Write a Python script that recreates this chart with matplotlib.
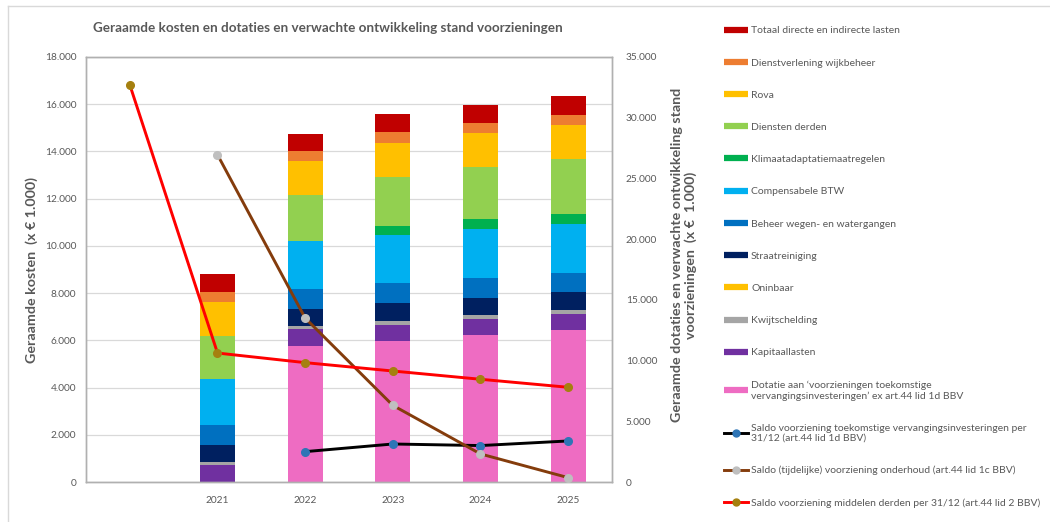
import numpy as np
import matplotlib
matplotlib.use("Agg")
import matplotlib.pyplot as plt
from matplotlib.lines import Line2D
from matplotlib.ticker import FuncFormatter, MultipleLocator

plt.rcParams["font.family"] = ["Lato", "DejaVu Sans"]

nan = np.nan

# categories (first slot is the empty start column)
years = ["", "2021", "2022", "2023", "2024", "2025"]

# stacked cost components (x € 1.000), bottom to top
dotatie = [0, 0, 5766, 5977, 6217, 6442]
kapitaallasten = [0, 705, 704, 677, 676, 663]
kwijtschelding = [0, 135, 141, 183, 169, 183]
oninbaar = [0, 0, 0, 0, 0, 0]
straatreiniging = [0, 719, 733, 733, 733, 747]
beheer_wegen = [0, 860, 846, 846, 846, 832]
compensabele_btw = [0, 1945, 2002, 2044, 2086, 2072]
klimaat = [0, 0, 0, 380, 395, 409]
diensten_derden = [0, 1832, 1959, 2086, 2213, 2340]
rova = [0, 1438, 1438, 1438, 1438, 1452]
dienstverlening = [0, 409, 423, 451, 423, 423]
totaal_lasten = [0, 761, 747, 776, 789, 789]

# provisions (secondary axis)
saldo_vervanging = [nan, nan, 2500, 3130, 3000, 3380]
saldo_onderhoud = [nan, 26950, 13500, 6310, 2310, 360]
saldo_derden = [32700, 10620, 9830, 9140, 8460, 7800]

stack = [
    (dotatie, "#EE6CC2", "Dotatie aan \u2018voorzieningen toekomstige\nvervangingsinvesteringen\u2019 ex art.44 lid 1d BBV"),
    (kapitaallasten, "#7030A0", "Kapitaallasten"),
    (kwijtschelding, "#A5A5A5", "Kwijtschelding"),
    (oninbaar, "#FFC000", "Oninbaar"),
    (straatreiniging, "#002060", "Straatreiniging"),
    (beheer_wegen, "#0070C0", "Beheer wegen- en watergangen"),
    (compensabele_btw, "#00B0F0", "Compensabele BTW"),
    (klimaat, "#00B050", "Klimaatadaptatiemaatregelen"),
    (diensten_derden, "#92D050", "Diensten derden"),
    (rova, "#FFC000", "Rova"),
    (dienstverlening, "#ED7D31", "Dienstverlening wijkbeheer"),
    (totaal_lasten, "#C00000", "Totaal directe en indirecte lasten"),
]

lines = [
    (saldo_vervanging, "#000000", "#2E75B6",
     "Saldo voorziening toekomstige vervangingsinvesteringen per\n31/12 (art.44 lid 1d BBV)"),
    (saldo_onderhoud, "#843C0C", "#BFBFBF",
     "Saldo (tijdelijke) voorziening onderhoud (art.44 lid 1c BBV)"),
    (saldo_derden, "#FF0000", "#A5800F",
     "Saldo voorziening middelen derden per 31/12 (art.44 lid 2 BBV)"),
]

grey = "#595959"
W, H = 1050, 522

fig = plt.figure(figsize=(W / 100, H / 100), dpi=100)
ax = fig.add_axes([86 / W, 1 - 482 / H, (612 - 86) / W, (482 - 57) / H])
ax2 = ax.twinx()

x = np.arange(len(years))
bottom = np.zeros(len(years))
for vals, col, lab in stack:
    ax.bar(x, vals, width=0.4, bottom=bottom, color=col, zorder=2)
    bottom += np.array(vals)

for vals, col, mcol, lab in lines:
    ax2.plot(x, vals, color=col, lw=2.1, marker="o", ms=5.5,
             mfc=mcol, mec=mcol, zorder=3)

fmt = FuncFormatter(lambda v, p: f"{v:,.0f}".replace(",", "."))
ax.set_xlim(-0.5, len(years) - 0.5)
ax.set_ylim(0, 18000)
ax.yaxis.set_major_locator(MultipleLocator(2000))
ax.yaxis.set_major_formatter(fmt)
ax2.set_ylim(0, 35000)
ax2.yaxis.set_major_locator(MultipleLocator(5000))
ax2.yaxis.set_major_formatter(fmt)
ax.set_xticks(x)
ax.set_xticklabels(years)

ax.set_axisbelow(True)
ax.grid(axis="y", color="#D9D9D9", lw=0.9, zorder=0)
for a in (ax, ax2):
    for s in a.spines.values():
        s.set_color("#B0B0B0")
        s.set_linewidth(1.0)
    a.tick_params(length=0, labelsize=7.3, colors=grey)
ax.tick_params(axis="y", pad=7)
ax.tick_params(axis="x", pad=10)
ax2.tick_params(axis="y", pad=10)

fig.text(328 / W, 1 - 28 / H,
         "Geraamde kosten en dotaties en verwachte ontwikkeling stand voorzieningen",
         ha="center", va="center", fontsize=9.7, fontweight="bold", color=grey)
fig.text(32 / W, 1 - 270 / H, "Geraamde kosten  (x \u20ac 1.000)", rotation=90,
         ha="center", va="center", fontsize=10.3, fontweight="bold", color=grey)
fig.text(684 / W, 1 - 255 / H,
         "Geraamde dotaties en verwachte ontwikkeling stand\nvoorzieningen  (x \u20ac  1.000)",
         rotation=90, ha="center", va="center", fontsize=10.3, fontweight="bold",
         color=grey, linespacing=1.05)

# outer chart frame (only top and left edges visible)
fig.add_artist(Line2D([8 / W, 8 / W], [0, 1 - 6 / H], color="#D9D9D9", lw=1,
                      transform=fig.transFigure))
fig.add_artist(Line2D([8 / W, 1], [1 - 6 / H, 1 - 6 / H], color="#D9D9D9", lw=1,
                      transform=fig.transFigure))

handles, labels = [], []
for vals, col, lab in stack[::-1]:
    handles.append(Line2D([], [], color=col, lw=4.5, solid_capstyle="butt"))
    labels.append(lab)
for vals, col, mcol, lab in lines:
    handles.append(Line2D([], [], color=col, lw=2.1, marker="o", ms=5,
                          mfc=mcol, mec=mcol))
    labels.append(lab)

leg = fig.legend(handles, labels, loc="upper left",
                 bbox_to_anchor=(724 / W, 1 - 26 / H), frameon=False,
                 fontsize=7.5, handlelength=2.3, handletextpad=0.3,
                 labelspacing=2.2, borderpad=0, borderaxespad=0)
for t in leg.get_texts():
    t.set_color(grey)

fig.savefig("out.png", dpi=100)
